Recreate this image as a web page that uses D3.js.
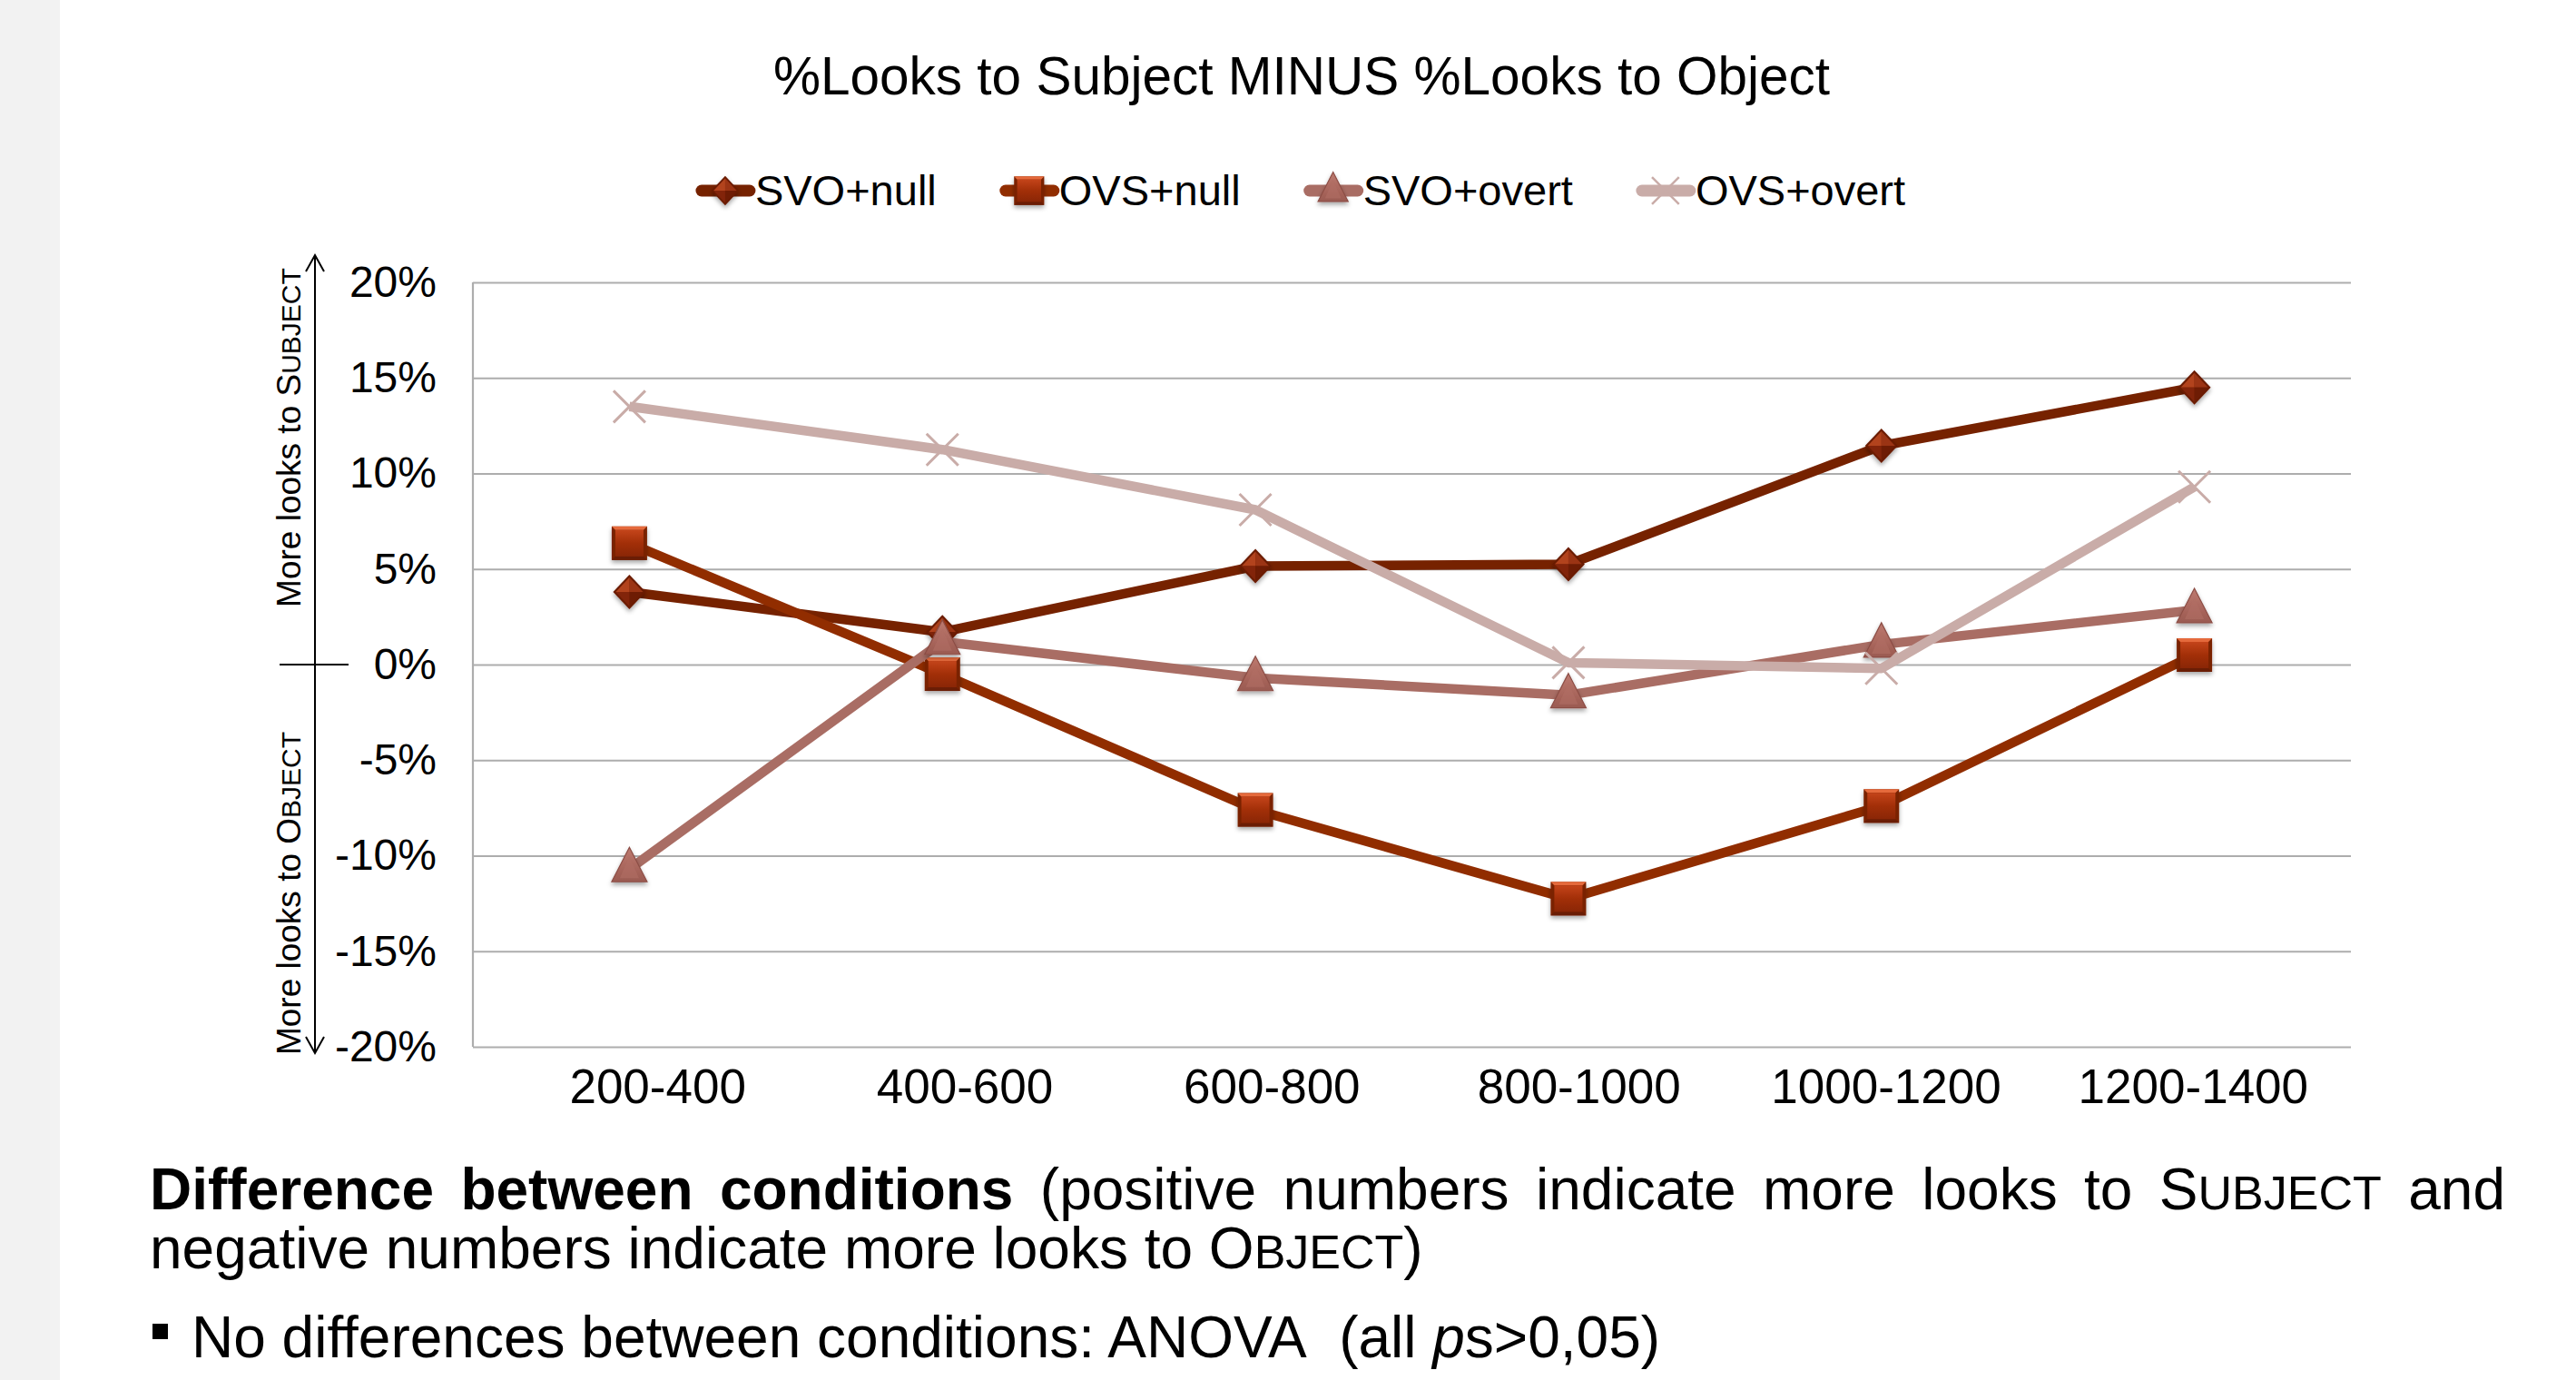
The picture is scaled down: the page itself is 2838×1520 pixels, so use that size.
<!DOCTYPE html>
<html><head><meta charset="utf-8">
<script src="https://cdn.jsdelivr.net/npm/d3@7"></script>
<style>
html,body{margin:0;padding:0;background:#f2f2f2;overflow:hidden;}
svg{display:block;}
text{font-family:"Liberation Sans",Arial,Helvetica,sans-serif;fill:#000;}
</style></head><body>
<svg id="c" width="2838" height="1520"></svg>
<script>
// ---------- data ----------
const categories = ["200-400","400-600","600-800","800-1000","1000-1200","1200-1400"];
const seriesNames = ["SVO+null","OVS+null","SVO+overt","OVS+overt"];
const svoNull   = [3.8, 1.7, 5.15, 5.25, 11.45, 14.5];
const ovsNull   = [6.35, -0.5, -7.6, -12.25, -7.4, 0.5];
const svoOvert  = [-10.7, 1.2, -0.7, -1.6, 1.05, 2.85];
const ovsOvert  = [13.5, 11.25, 8.1, 0.1, -0.2, 9.3];
const yTicks    = [-20, -15, -10, -5, 0, 5, 10, 15, 20];
const titleText = "%Looks to Subject MINUS %Looks to Object";

// ---------- styles ----------
const seriesValues = [svoNull, ovsNull, svoOvert, ovsOvert];
const seriesColors = ["#762200", "#912d00", "#a96d64", "#c9aca8"];
const seriesMarkers = ["diamond", "square", "triangle", "x"];

const svg = d3.select("#c");
const W = 2838, H = 1520;

// background slide
svg.append("rect").attr("x", 66).attr("y", -20).attr("width", W).attr("height", H + 40)
  .attr("rx", 14).attr("fill", "#ffffff");

const defs = svg.append("defs");
const f = defs.append("filter").attr("id", "shadow").attr("x", "-50%").attr("y", "-50%").attr("width", "200%").attr("height", "200%");
f.append("feDropShadow").attr("dx", 0).attr("dy", 3).attr("stdDeviation", 2.5).attr("flood-color", "#000").attr("flood-opacity", 0.35);

function lg(id, stops) {
  const g = defs.append("linearGradient").attr("id", id).attr("x1", 0).attr("y1", 0).attr("x2", 0).attr("y2", 1);
  stops.forEach(s => g.append("stop").attr("offset", s[0]).attr("stop-color", s[1]));
}
lg("gSq", [[0, "#c4441a"], [0.5, "#a22f08"], [1, "#8a2606"]]);
lg("gTri", [[0, "#bd7a70"], [0.6, "#a9665c"], [1, "#9a5a51"]]);

const margin = {left: 521, right: W - 2590, top: 311, bottom: H - 1153};
const x = d3.scalePoint().domain(categories).range([margin.left, W - margin.right]).padding(0.5);
const xLab = d3.scalePoint().domain(categories).range([555, 2585]).padding(0.5);
const y = d3.scaleLinear().domain([-20, 20]).range([H - margin.bottom, margin.top]);

// title
svg.append("text").attr("x", 1434).attr("y", 104).attr("text-anchor", "middle")
  .attr("font-size", 58.5).text(titleText);

// y gridlines + labels
const yAxis = d3.axisLeft(y).tickValues(yTicks).tickFormat(d => d + "%")
  .tickSize(-(W - margin.right - margin.left)).tickPadding(40);
const gy = svg.append("g").attr("transform", `translate(${margin.left},0)`).call(yAxis);
gy.select(".domain").remove();
gy.selectAll(".tick line").attr("stroke", "#adadad").attr("stroke-width", 2.2);
gy.selectAll(".tick text").attr("font-size", 48).attr("font-family", '"Liberation Sans",Arial,sans-serif').attr("fill", "#000");
// left plot border
svg.append("line").attr("x1", margin.left).attr("x2", margin.left)
  .attr("y1", y(20)).attr("y2", y(-20)).attr("stroke", "#adadad").attr("stroke-width", 2.2);

// x labels
const xAxis = d3.axisBottom(xLab).tickSize(0).tickPadding(24);
const gx = svg.append("g").attr("transform", `translate(0,${y(-20)})`).call(xAxis);
gx.select(".domain").remove();
gx.selectAll(".tick text").attr("font-size", 53).attr("font-family", '"Liberation Sans",Arial,sans-serif').attr("fill", "#000").attr("dy", "0.71em");

// marker drawing
function drawMarker(g, type, s, color) {
  if (type === "diamond") {
    const r = 19 * s, w = 18 * s;
    g.append("path").attr("d", `M0,${-r}L${w},0L0,${r}L${-w},0Z`).attr("fill", "#6a1a04").attr("filter", "url(#shadow)");
    g.append("path").attr("d", `M0,${-r + 3 * s}L${w - 3 * s},0L0,0Z`).attr("fill", "#9b3414");
    g.append("path").attr("d", `M0,${-r + 3 * s}L${-w + 3 * s},0L0,0Z`).attr("fill", "#b2431d");
    g.append("path").attr("d", `M0,${r - 3 * s}L${w - 3 * s},0L0,0Z`).attr("fill", "#6e1c04");
    g.append("path").attr("d", `M0,${r - 3 * s}L${-w + 3 * s},0L0,0Z`).attr("fill", "#82240a");
  } else if (type === "square") {
    const hw = 19.5 * s, hh = 18.5 * s, b = 4 * s;
    g.append("rect").attr("x", -hw).attr("y", -hh).attr("width", 2 * hw).attr("height", 2 * hh)
      .attr("fill", "#7a2206").attr("filter", "url(#shadow)");
    g.append("path").attr("d", `M${-hw},${-hh}L${hw},${-hh}L${hw - b},${-hh + b}L${-hw + b},${-hh + b}Z`).attr("fill", "#e56a3c");
    g.append("path").attr("d", `M${-hw},${hh}L${hw},${hh}L${hw - b},${hh - b}L${-hw + b},${hh - b}Z`).attr("fill", "#6a1d05");
    g.append("rect").attr("x", -hw + b).attr("y", -hh + b).attr("width", 2 * hw - 2 * b).attr("height", 2 * hh - 2 * b)
      .attr("fill", "url(#gSq)");
  } else if (type === "triangle") {
    const hw = 19.5 * s, top = -24 * s, bot = 14 * s;
    g.append("path").attr("d", `M0,${top}L${hw},${bot}L${-hw},${bot}Z`).attr("fill", "url(#gTri)")
      .attr("stroke", "#8c4d45").attr("stroke-width", 1.2).attr("filter", "url(#shadow)");
    g.append("path").attr("d", `M0,${top + 10 * s}L${hw - 9 * s},${bot - 4 * s}L${-hw + 9 * s},${bot - 4 * s}Z`).attr("fill", "#b06e64").attr("opacity", 0.6);
  } else {
    const r = 17.5 * s;
    g.append("path").attr("d", `M${-r},${-r}L${r},${r}M${r},${-r}L${-r},${r}`)
      .attr("stroke", color).attr("stroke-width", 3 * s).attr("fill", "none");
  }
}

// series
const line = d3.line().x((d, i) => x(categories[i])).y(d => y(d));
seriesValues.forEach((vals, si) => {
  const g = svg.append("g").attr("class", "series");
  g.append("path").datum(vals).attr("d", line).attr("fill", "none")
    .attr("stroke", seriesColors[si]).attr("stroke-width", 10.5)
    .attr("stroke-linejoin", "round");
  vals.forEach((v, i) => {
    const mg = g.append("g").attr("transform", `translate(${x(categories[i])},${y(v)})`);
    drawMarker(mg, seriesMarkers[si], 1, seriesColors[si]);
  });
});

// legend
const legend = svg.append("g");
const lgItems = [];
let cx = 0;
seriesNames.forEach((name, si) => {
  const it = legend.append("g");
  it.append("line").attr("x1", 4).attr("x2", 57).attr("y1", 0).attr("y2", 0)
    .attr("stroke", seriesColors[si]).attr("stroke-width", 13).attr("stroke-linecap", "round");
  const mg = it.append("g").attr("transform", "translate(30,0)");
  drawMarker(mg, seriesMarkers[si], 0.85, seriesColors[si]);
  const t = it.append("text").attr("x", 63).attr("y", 0).attr("dy", "0.35em").attr("font-size", 47).text(name);
  const w = 63 + t.node().getComputedTextLength();
  lgItems.push({it, start: cx});
  cx += w + 72;
});
const totalW = cx - 72;
const lx0 = 1434 - totalW / 2;
lgItems.forEach(o => o.it.attr("transform", `translate(${lx0 + o.start},210)`));

// left annotation arrow
const ax = 347;
svg.append("line").attr("x1", ax).attr("x2", ax).attr("y1", 281).attr("y2", 1160).attr("stroke", "#000").attr("stroke-width", 2);
svg.append("path").attr("d", `M${ax - 10},${299}L${ax},${281}L${ax + 10},${299}`).attr("fill", "none").attr("stroke", "#000").attr("stroke-width", 2);
svg.append("path").attr("d", `M${ax - 10},${1142}L${ax},${1160}L${ax + 10},${1142}`).attr("fill", "none").attr("stroke", "#000").attr("stroke-width", 2);
svg.append("line").attr("x1", 308).attr("x2", 384).attr("y1", y(0)).attr("y2", y(0)).attr("stroke", "#000").attr("stroke-width", 2);

function smallCapsLabel(cy, first, rest) {
  const t = svg.append("text").attr("transform", `translate(331,${cy}) rotate(-90)`)
    .attr("text-anchor", "middle").attr("font-size", 37);
  t.append("tspan").text("More looks to " + first);
  t.append("tspan").attr("font-size", 30).text(rest);
}
smallCapsLabel(482, "S", "UBJECT");
smallCapsLabel(984, "O", "BJECT");

// bottom text
const l1 = svg.append("text").attr("x", 165).attr("y", 1332).attr("font-size", 64);
l1.append("tspan").attr("font-weight", "bold").text("Difference between conditions");
l1.append("tspan").text(" (positive numbers indicate more looks to S");
l1.append("tspan").attr("font-size", 52).text("UBJECT");
l1.append("tspan").text(" and");
const natural = l1.node().getComputedTextLength();
const gaps = 10;
l1.attr("word-spacing", Math.max(0, (2760 - 165 - natural) / gaps));

const l2 = svg.append("text").attr("x", 165).attr("y", 1397).attr("font-size", 64);
l2.append("tspan").text("negative numbers indicate more looks to O");
l2.append("tspan").attr("font-size", 52).text("BJECT");
l2.append("tspan").text(")");

svg.append("rect").attr("x", 168).attr("y", 1458).attr("width", 17).attr("height", 17).attr("fill", "#000");
const l3 = svg.append("text").attr("x", 211).attr("y", 1495).attr("font-size", 64).attr("xml:space", "preserve");
l3.append("tspan").text("No differences between conditions: ANOVA\u00a0 (all ");
l3.append("tspan").attr("font-style", "italic").text("p");
l3.append("tspan").text("s>0,05)");
</script>
</body></html>
